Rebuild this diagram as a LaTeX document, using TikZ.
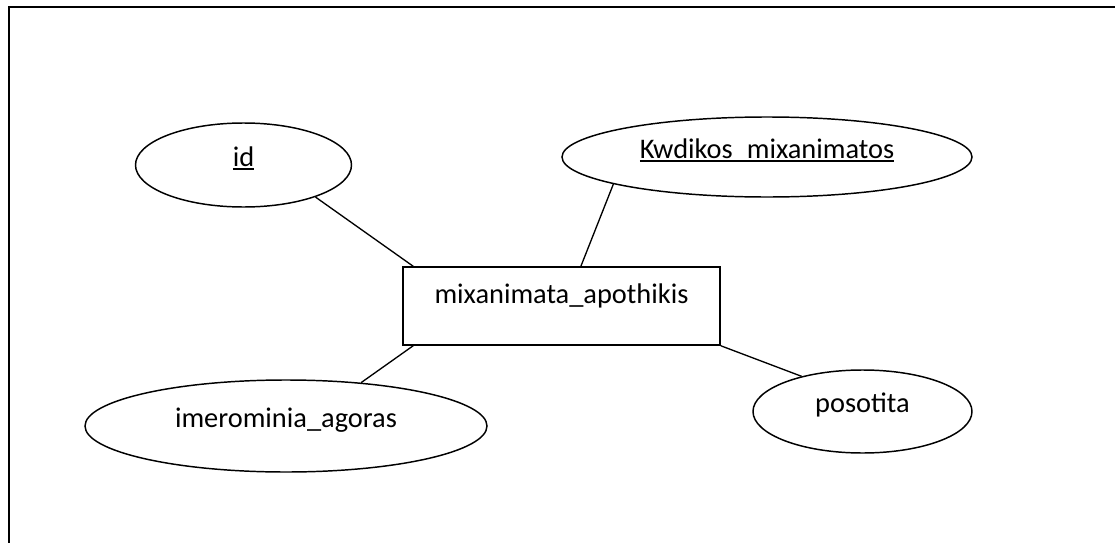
\documentclass[tikz,border=0pt]{standalone}
\usepackage{fontspec}
\setmainfont{Carlito}
\usetikzlibrary{shapes.geometric}
\tikzset{attr/.style={shape=ellipse, draw=black, line width=1.1pt, inner sep=0pt,
    text height=7pt, text depth=5pt},
  ent/.style={shape=rectangle, draw=black, line width=1.1pt, inner sep=0pt,
    text height=10pt, text depth=14.5pt},
  conn/.style={line width=1pt}}
% key underline, level with the underscore
\newcommand\keyattr[1]{\setbox0\hbox{#1}\setbox2\hbox{\_}%
  \rlap{\vrule width\wd0 height -\dimexpr\dp2-1.4pt\relax depth \dp2}\box0}

\begin{document}
\begin{tikzpicture}[x=0.75pt, y=-0.75pt, font=\fontsize{21.3}{25}\selectfont]
            \useasboundingbox (0,0) rectangle (1115,543);
            \draw[line width=1.5pt] (9,543) -- (9,7) -- (1115,7);

                \node[ent, minimum width=237.75pt, minimum height=58.5pt] (M) at (561.5,306) {mixanimata\_apothikis};
                \node[attr, minimum width=162pt, minimum height=63pt] (ID) at (243.5,165) {\keyattr{id}};
                \node[attr, minimum width=307.5pt, minimum height=60pt] (KM) at (767,157) {\keyattr{Kwdikos\_mixanimatos}};
                \node[attr, minimum width=301.5pt, minimum height=69pt] (IA) at (286,426) {imerominia\_agoras};
                \node[attr, minimum width=164.25pt, minimum height=62.25pt] (P) at (862.5,411.5) {posotita};

                \draw[conn] (ID.-24) -- (M.165);
                \draw[conn] (KM.190) -- (M.64);
                \draw[conn] (IA.30) -- (M.195);
                \draw[conn] (M.south east) -- (P.150);

\end{tikzpicture}
\end{document}
